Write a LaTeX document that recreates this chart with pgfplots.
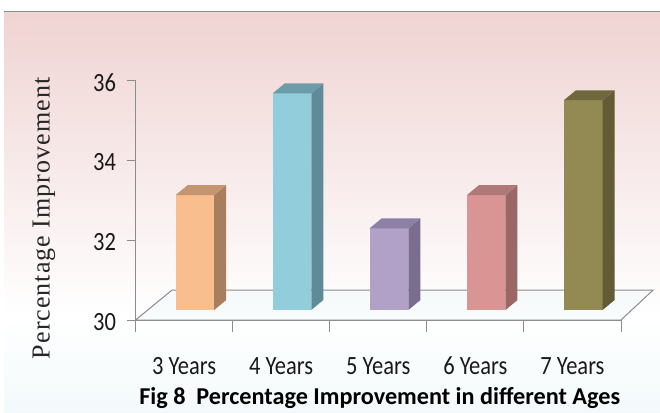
\documentclass[border=0pt]{standalone}
\usepackage{fontspec}
\setmainfont{Carlito}
\newfontfamily\serifl[LetterSpace=4]{Liberation Serif}
\usepackage{graphicx}
\usepackage{pgfplots}
\pgfplotsset{compat=1.18}

\definecolor{bgtop}{HTML}{E5B7B6}
\definecolor{bgbot}{HTML}{DAEEF3}
\definecolor{axgray}{HTML}{8C8C8C}
\definecolor{floorfill}{HTML}{F3F9FB}
\definecolor{aF}{HTML}{F9BE8E}\definecolor{aS}{HTML}{A97E5E}\definecolor{aT}{HTML}{C59571}
\definecolor{bF}{HTML}{92CDDC}\definecolor{bS}{HTML}{5F8B98}\definecolor{bT}{HTML}{6C9BA9}
\definecolor{cF}{HTML}{B2A1C7}\definecolor{cS}{HTML}{7A6D8F}\definecolor{cT}{HTML}{8E7FA5}
\definecolor{dF}{HTML}{D99594}\definecolor{dS}{HTML}{9A6766}\definecolor{dT}{HTML}{B07978}
\definecolor{eF}{HTML}{938953}\definecolor{eS}{HTML}{625B35}\definecolor{eT}{HTML}{6F683E}

\pgfdeclareverticalshading{bgshade}{100bp}{color(0bp)=(bgbot); color(37bp)=(white); color(100bp)=(bgtop)}

\newcommand{\vs}[1]{\scalebox{1}[1.17]{#1}}

% 3D bar: #1 category index, #2 value, #3 front, #4 side, #5 top colour
\newcommand{\threedbar}[5]{%
  \pgfmathsetmacro\xa{#1-0.088}%
  \pgfmathsetmacro\xb{#1+0.31}%
  \pgfmathsetmacro\xc{#1+0.31+0.124}%
  \pgfmathsetmacro\xd{#1-0.088+0.124}%
  \pgfmathsetmacro\ya{30.25}%
  \pgfmathsetmacro\yb{#2+0.25}%
  \pgfmathsetmacro\yc{#2+0.5}%
  \pgfmathsetmacro\yd{30.5}%
  \edef\doit{%
   \noexpand\addplot[fill=#3, draw=none] coordinates {(\xa,\ya) (\xb,\ya) (\xb,\yb) (\xa,\yb)} -- cycle;
   \noexpand\addplot[fill=#4, draw=none] coordinates {(\xb,\ya) (\xc,\yd) (\xc,\yc) (\xb,\yb)} -- cycle;
   \noexpand\addplot[fill=#5, draw=none] coordinates {(\xa,\yb) (\xb,\yb) (\xc,\yc) (\xd,\yc)} -- cycle;
  }\doit
}

\begin{document}
\begin{tikzpicture}
\useasboundingbox (0,0) rectangle (660pt,412pt);
\fill[white] (0,0) rectangle (660pt,412pt);
\shade[shading=bgshade] (4pt,0) rectangle (660pt,400pt);
\draw[axgray, line width=1pt] (4pt,400pt) -- (660pt,400pt);
\begin{axis}[
  at={(135.5pt,92pt)}, anchor=south west, scale only axis,
  width=485.5pt, height=239.3pt,
  xmin=-0.5, xmax=4.5, ymin=30, ymax=36,
  axis lines*=left,
  axis line style={draw=axgray, line width=1pt},
  clip=false,
  ytick={30,32,34,36},
  yticklabel={\vs{\pgfmathprintnumber{\tick}}},
  xtick={0,1,2,3,4},
  xticklabels={\vs{3 Years},\vs{4 Years},\vs{5 Years},\vs{6 Years},\vs{7 Years}},
  minor xtick={-0.5,0.5,1.5,2.5,3.5,4.5},
  tick align=outside, major tick length=9pt, minor tick length=12pt,
  major x tick style={draw=none},
  every tick/.style={axgray, line width=1pt},
  /pgf/number format/assume math mode=true,
  ticklabel style={font=\fontsize{22.5}{24}\selectfont, text=black!90},
  yticklabel style={anchor=east, xshift=-7pt, yshift=-2pt},
  xticklabel style={anchor=base, yshift=-45pt},
  ylabel={\serifl\fontsize{26}{28}\selectfont Percentage Improvement},
  every axis y label/.style={at={(axis description cs:-0.1885,0.425)}, rotate=90, anchor=center, text=black!85},
  xlabel={\bfseries\fontsize{24.2}{26}\selectfont Fig 8\ \ Percentage Improvement in different Ages},
  every axis x label/.style={at={(axis description cs:0.503,-0.355)}, anchor=base},
]
\addplot[fill=floorfill, fill opacity=0.6, draw=axgray, line width=1pt] coordinates {(-0.5,30) (4.5,30) (4.83,30.75) (-0.124,30.75)} -- cycle;
\threedbar{0}{32.88}{aF}{aS}{aT}
\threedbar{1}{35.43}{bF}{bS}{bT}
\threedbar{2}{32.05}{cF}{cS}{cT}
\threedbar{3}{32.88}{dF}{dS}{dT}
\threedbar{4}{35.26}{eF}{eS}{eT}
\end{axis}
\end{tikzpicture}
\end{document}
